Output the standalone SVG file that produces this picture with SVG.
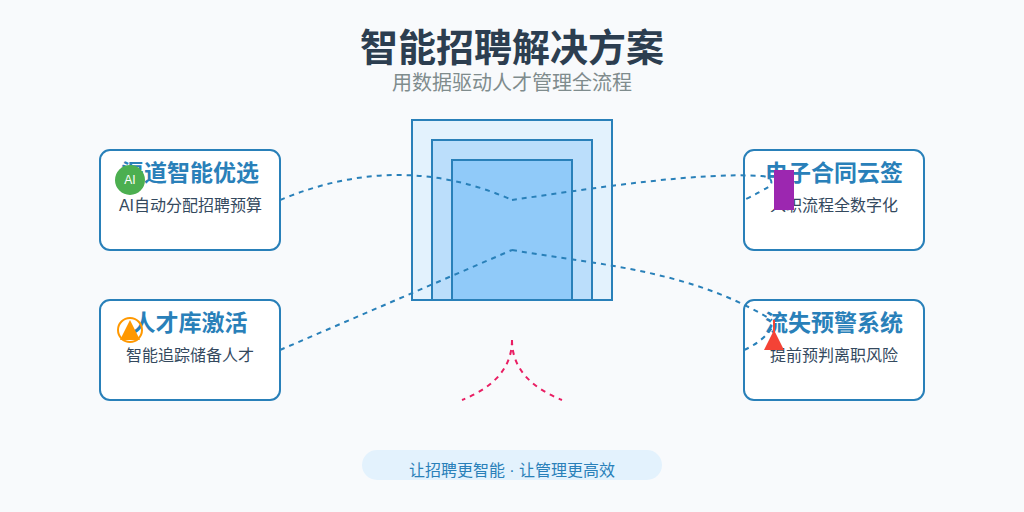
<svg xmlns="http://www.w3.org/2000/svg" width="1024" height="512" viewBox="0 0 1024 512">
<style>
text{font-family:"Liberation Sans","Noto Sans CJK SC",sans-serif;text-anchor:middle}
.card{fill:#fff;stroke:#2980b9;stroke-width:2}
.h{font-size:23px;font-weight:700;fill:#2980b9}
.d{font-size:16px;fill:#34495e}
.c{fill:none;stroke:#2980b9;stroke-width:2;stroke-dasharray:5 5}
.p{fill:none;stroke:#e91e63;stroke-width:2;stroke-dasharray:5 5}
</style>
<rect width="1024" height="512" fill="#f8fafc"/>
<text x="512" y="61" font-size="38" font-weight="700" fill="#2c3e50">智能招聘解决方案</text>
<text x="512" y="90" font-size="20" fill="#7f8c8d">用数据驱动人才管理全流程</text>
<g id="center">
<rect x="412" y="120" width="200" height="180" fill="#e3f2fd" stroke="#2980b9" stroke-width="2"/>
<rect x="432" y="140" width="160" height="160" fill="#bbdefb" stroke="#2980b9" stroke-width="2"/>
<rect x="452" y="160" width="120" height="140" fill="#90caf9" stroke="#2980b9" stroke-width="2"/>
</g>
<g id="node1"><rect class="card" x="100" y="150" width="180" height="100" rx="10"/><text class="h" x="190" y="181">渠道智能优选</text><text class="d" x="190.5" y="211">AI自动分配招聘预算</text><circle cx="130" cy="180" r="15" fill="#4caf50"/><text x="130" y="183.5" font-size="12" fill="#fff">AI</text></g>
<g id="node2"><rect class="card" x="100" y="300" width="180" height="100" rx="10"/><text class="h" x="190" y="331">人才库激活</text><text class="d" x="190" y="361">智能追踪储备人才</text><circle cx="130" cy="330" r="12" fill="none" stroke="#ff9800" stroke-width="2"/><polygon points="130,320 120,340 140,340" fill="#ff9800"/></g>
<g id="node3"><rect class="card" x="744" y="150" width="180" height="100" rx="10"/><text class="h" x="834" y="181">电子合同云签</text><text class="d" x="834" y="211">入职流程全数字化</text></g>
<g id="node4"><rect class="card" x="744" y="300" width="180" height="100" rx="10"/><text class="h" x="834" y="331">流失预警系统</text><text class="d" x="834" y="361">提前预判离职风险</text></g>
<g id="connectors">
<path class="c" d="M280 200Q400 150 512 200"/>
<path class="c" d="M280 350L512 250"/>
<path class="c" d="M512 200C600 187 700 172 762 176Q775 178 770 186Q760 192 744 200"/>
<path class="c" d="M512 250C600 265 690 270 772 320"/>
<path class="c" d="M744 350Q762 342 772 328"/>
<path class="p" d="M512 340Q512 380 462 400"/>
<path class="p" d="M512 340Q512 380 562 400"/>
</g>
<g id="node3-icon"><rect x="774" y="170" width="20" height="40" fill="#9c27b0"/></g>
<g id="node4-icon"><path d="M774 320V332" stroke="#f44336" stroke-width="2" fill="none"/><polygon points="774,330 764,350 784,350" fill="#f44336"/></g>
<g id="footer"><rect x="362" y="450" width="300" height="30" rx="15" fill="#e3f2fd"/><text x="512" y="476" font-size="16" fill="#2980b9">让招聘更智能 · 让管理更高效</text></g>
</svg>
